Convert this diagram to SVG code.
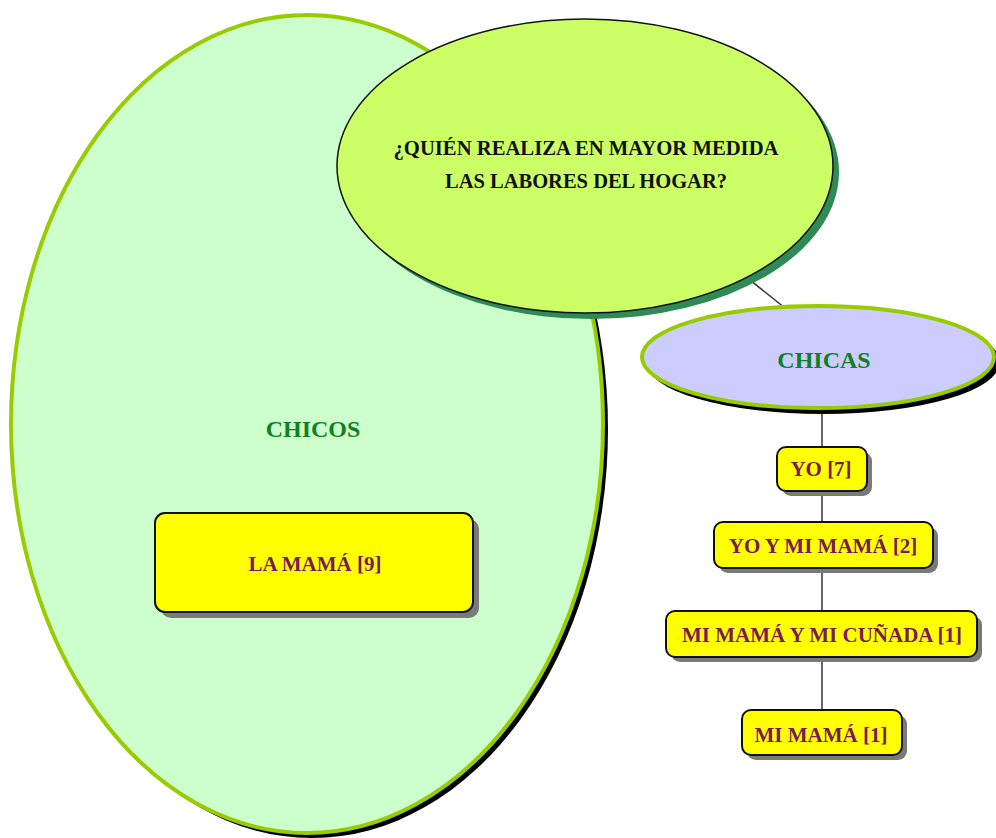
<svg xmlns="http://www.w3.org/2000/svg" width="996" height="838" viewBox="0 0 996 838">
<style>
.q{font-family:"Liberation Serif","Times New Roman",serif;font-weight:bold;font-size:20px;fill:#111;text-anchor:middle}
.h{font-family:"Liberation Serif","Times New Roman",serif;font-weight:bold;font-size:24px;fill:#118024;text-anchor:middle}
.b{font-family:"Liberation Serif","Times New Roman",serif;font-weight:bold;font-size:21px;fill:#7a1a58;text-anchor:middle}
.box{fill:#ffff00;stroke:#111;stroke-width:2}
.sh{fill:#7a7a7a}
.ln{stroke:#333;stroke-width:1.5;fill:none}
</style>
<rect width="996" height="838" fill="#ffffff"/>
<g id="chicos">
<ellipse cx="312" cy="429" rx="296" ry="409" fill="#000"/>
<ellipse cx="307" cy="424" rx="296" ry="409" fill="#ccffcc" stroke="#99cc00" stroke-width="4"/>
<text class="h" x="313" y="437">CHICOS</text>
</g>
<g id="connectors">
<line class="ln" x1="700" y1="240" x2="800" y2="320"/>
<line class="ln" x1="822" y1="400" x2="822" y2="720"/>
</g>
<g id="pregunta">
<ellipse cx="591" cy="172" rx="248" ry="147" fill="#2f8a55"/>
<ellipse cx="585" cy="166" rx="248" ry="147" fill="#ccff66" stroke="#111" stroke-width="1.5"/>
<text class="q" x="586" y="155" textLength="385" lengthAdjust="spacingAndGlyphs">¿QUIÉN REALIZA EN MAYOR MEDIDA</text>
<text class="q" x="586" y="188" textLength="282" lengthAdjust="spacingAndGlyphs">LAS LABORES DEL HOGAR?</text>
</g>
<g id="chicas">
<ellipse cx="823" cy="362" rx="177" ry="52" fill="#000"/>
<ellipse cx="818" cy="357" rx="176" ry="51" fill="#ccccff" stroke="#99cc00" stroke-width="4"/>
<text class="h" x="824" y="368">CHICAS</text>
</g>
<g id="la-mama">
<rect class="sh" x="161" y="519" width="318" height="99" rx="10"/>
<rect class="box" x="155" y="513" width="318" height="99" rx="10"/>
<text class="b" x="315" y="571">LA MAMÁ [9]</text>
</g>
<g id="yo">
<rect class="sh" x="782" y="452" width="90" height="44" rx="9"/>
<rect class="box" x="777" y="447" width="90" height="44" rx="9"/>
<text class="b" x="821" y="476">YO [7]</text>
</g>
<g id="yo-mama">
<rect class="sh" x="719" y="527" width="219" height="46" rx="9"/>
<rect class="box" x="714" y="522" width="219" height="46" rx="9"/>
<text class="b" x="823" y="553">YO Y MI MAMÁ [2]</text>
</g>
<g id="mama-cunada">
<rect class="sh" x="671" y="616" width="311" height="46" rx="9"/>
<rect class="box" x="666" y="611" width="311" height="46" rx="9"/>
<text class="b" x="822" y="642">MI MAMÁ Y MI CUÑADA [1]</text>
</g>
<g id="mi-mama">
<rect class="sh" x="747" y="715" width="160" height="45" rx="9"/>
<rect class="box" x="742" y="710" width="160" height="45" rx="9"/>
<text class="b" x="821" y="742">MI MAMÁ [1]</text>
</g>
</svg>
